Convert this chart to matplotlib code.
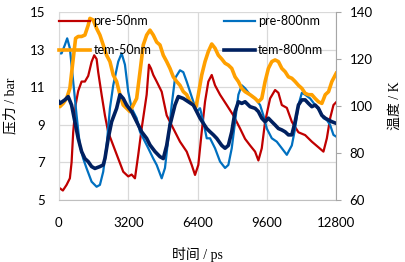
import matplotlib
matplotlib.use('Agg')
import matplotlib.pyplot as plt

# pressure (left axis, bar) and temperature (right axis, K) vs time (ps)
t_pre50 = [0, 46, 185, 356, 508, 587, 661, 772, 892, 1049, 1201, 1354, 1511, 1631, 1742, 1816,
           1973, 2126, 2278, 2509, 2740, 2971, 3202, 3359, 3512, 3664, 3821, 4052, 4159, 4251,
           4358, 4515, 4746, 4977, 5282, 5591, 5901, 6132, 6285, 6437, 6594, 6747, 6899, 7056,
           7208, 7440, 7749, 8054, 8364, 8595, 8826, 9057, 9210, 9366, 9519, 9750, 9981, 10134,
           10291, 10522, 10753, 11058, 11368, 11677, 11982, 12213, 12370, 12522, 12675, 12800]
p_pre50 = [5.6, 5.62, 5.5, 5.8, 6.15, 7.0, 8.6, 10.05, 10.8, 11.3, 11.3, 11.6, 12.35, 12.7, 12.5, 11.8,
           10.6, 9.5, 8.6, 7.9, 7.2, 6.5, 6.25, 6.35, 6.15, 7.4, 8.8, 10.6, 12.2, 12.0,
           11.65, 11.3, 10.76, 9.5, 8.8, 8.1, 7.57, 6.86, 6.33, 6.86, 8.63, 10.23, 11.3, 11.65,
           11.1, 10.6, 10.05, 9.5, 8.8, 8.25, 7.9, 7.57, 7.1, 7.75, 9.16, 10.4, 10.85, 10.7,
           10.05, 9.9, 9.16, 8.6, 8.45, 8.1, 7.8, 7.57, 8.28, 9.35, 10.05, 10.2]

t_pre800 = [0, 125, 277, 384, 508, 661, 818, 970, 1123, 1280, 1511, 1742, 1895, 2047, 2204, 2357,
            2509, 2740, 2897, 3050, 3202, 3359, 3590, 3743, 3896, 4127, 4358, 4515, 4746, 4898,
            5051, 5208, 5360, 5591, 5744, 5901, 6054, 6206, 6363, 6516, 6668, 6825, 6978, 7208,
            7440, 7671, 7823, 7980, 8133, 8286, 8443, 8595, 8826, 9057, 9288, 9440, 9597, 9829,
            10058, 10291, 10522, 10753, 10906, 11058, 11216, 11368, 11599, 11830, 12060, 12213,
            12370, 12522, 12675, 12800]
p_pre800 = [12.8, 12.8, 13.25, 13.6, 13.07, 11.3, 9.5, 7.9, 7.2, 6.68, 5.97, 5.7, 5.8, 6.5, 7.9, 9.88,
            11.1, 12.36, 12.8, 12.2, 10.76, 9.88, 9.35, 8.63, 8.28, 7.75, 7.2, 6.86, 6.15, 6.7,
            8.28, 10.05, 11.47, 11.9, 11.8, 11.3, 10.76, 10.23, 9.7, 9.88, 9.16, 8.28, 8.28, 7.75,
            7.04, 6.7, 6.86, 7.75, 9.16, 10.6, 11.1, 10.94, 10.6, 10.4, 10.05, 9.5, 8.8, 8.28,
            8.1, 7.75, 7.4, 7.9, 8.8, 10.05, 10.7, 10.6, 10.4, 10.05, 9.7, 9.35,
            9.25, 8.99, 8.46, 8.37]

t_tem50 = [0, 46, 199, 356, 508, 661, 772, 892, 1049, 1201, 1354, 1433, 1585, 1742, 1895, 2047,
           2204, 2357, 2509, 2666, 2819, 2971, 3128, 3281, 3433, 3590, 3743, 3896, 4052, 4205,
           4358, 4515, 4667, 4820, 4977, 5129, 5282, 5439, 5591, 5744, 5901, 6054, 6206, 6331,
           6437, 6594, 6747, 6899, 7056, 7208, 7361, 7518, 7671, 7823, 7980, 8133, 8286, 8443,
           8595, 8826, 9057, 9210, 9366, 9519, 9672, 9829, 9981, 10134, 10291, 10444, 10596,
           10753, 10906, 11058, 11216, 11368, 11520, 11677, 11830, 11982, 12139, 12296, 12449,
           12601, 12800]
k_tem50 = [100.4, 99.7, 101.1, 103.2, 107.5, 120.0, 128.8, 129.6, 129.6, 130.2, 134.4, 137.3, 136.6,
           133.0, 130.2, 126.0, 121.6, 118.9, 113.2, 110.4, 104.8, 100.4, 99.0, 97.6, 100.4, 103.2,
           114.4, 126.0, 130.2, 132.3, 130.2, 127.2, 126.0, 121.6, 118.9, 116.0, 112.4, 110.4,
           108.8, 106.1, 104.8, 101.8, 100.4, 99.7, 104.8, 113.2, 118.9, 123.2, 126.4, 124.6, 121.6,
           120.0, 118.2, 117.4, 116.0, 112.4, 110.4, 107.5, 106.1, 104.8, 103.2, 101.8, 103.2,
           110.4, 116.0, 118.9, 119.6, 118.9, 116.0, 114.6, 112.4, 111.8, 110.4, 108.8, 107.5,
           105.4, 104.8, 104.8, 103.2, 101.8, 101.1, 104.8, 106.1, 110.4, 113.9]

t_tem800 = [0, 46, 277, 430, 587, 739, 892, 1049, 1201, 1354, 1511, 1664, 1895, 2047, 2126, 2278,
            2435, 2666, 2819, 2971, 3128, 3359, 3590, 3821, 4052, 4205, 4436, 4667, 4820, 4977,
            5129, 5360, 5513, 5744, 5976, 6206, 6363, 6516, 6668, 6825, 6978, 7131, 7287, 7518,
            7671, 7823, 7980, 8133, 8286, 8443, 8595, 8748, 8826, 9057, 9210, 9366, 9519, 9672,
            9829, 9981, 10134, 10291, 10444, 10596, 10753, 10906, 11058, 11216, 11368, 11520,
            11677, 11830, 11982, 12139, 12296, 12449, 12601, 12800]
k_tem800 = [101.8, 101.1, 102.6, 104.0, 100.4, 93.3, 86.2, 80.6, 77.6, 76.3, 74.2, 73.4, 74.2, 74.9,
            77.6, 86.2, 93.3, 99.0, 104.8, 103.2, 100.4, 97.6, 93.3, 89.0, 86.2, 83.4, 80.6, 78.4,
            77.6, 83.2, 91.9, 100.4, 104.0, 103.2, 101.8, 100.4, 97.6, 94.8, 92.6, 90.4, 89.0,
            87.7, 86.2, 83.2, 82.0, 83.2, 89.0, 97.6, 101.8, 101.1, 101.8, 100.4, 99.7, 99.0, 97.6,
            94.8, 93.3, 94.8, 93.3, 91.9, 90.4, 89.8, 89.0, 87.7, 87.7, 93.3, 100.4, 102.6, 102.6,
            101.1, 99.7, 100.4, 99.0, 96.0, 94.8, 94.0, 93.3, 92.6]

grid_c = '#d9d9d9'
font_num = 'Lato'
font_lbl = ['Liberation Serif', 'Noto Sans CJK SC']

fig = plt.figure(figsize=(4.06, 2.62), dpi=100)
ax = fig.add_axes([0.145, 0.237, 0.683, 0.717])
ax2 = ax.twinx()

l1, = ax.plot(t_pre50, p_pre50, color='#C00000', lw=1.6, label='pre-50nm')
l3, = ax.plot(t_pre800, p_pre800, color='#0070C0', lw=1.6, label='pre-800nm')
l2, = ax2.plot(t_tem50, k_tem50, color='#FFA000', lw=2.6, label='tem-50nm')
l4, = ax2.plot(t_tem800, k_tem800, color='#002060', lw=2.6, label='tem-800nm')

ax.set_xlim(0, 12800)
ax.set_ylim(5, 15)
ax2.set_ylim(60, 140)
ax.set_xticks([0, 3200, 6400, 9600, 12800])
ax.set_yticks([5, 7, 9, 11, 13, 15])
ax2.set_yticks([60, 80, 100, 120, 140])
ax.grid(True, color=grid_c, lw=0.9)
ax.set_axisbelow(True)

for a in (ax, ax2):
    for s in a.spines.values():
        s.set_visible(False)
ax.spines['left'].set_visible(True)
ax.spines['left'].set_color(grid_c)
ax.spines['bottom'].set_visible(True)
ax.spines['bottom'].set_color('#bfbfbf')
ax2.spines['right'].set_visible(True)
ax2.spines['right'].set_color('#a6a6a6')

ax.tick_params(axis='both', length=0, labelsize=9.5)
ax.tick_params(axis='x', pad=12)
ax.tick_params(axis='y', pad=10)
ax2.tick_params(axis='y', length=3.5, color='#a6a6a6', labelsize=9.5, pad=6)
for lab in ax.get_xticklabels() + ax.get_yticklabels() + ax2.get_yticklabels():
    lab.set_fontfamily(font_num)

ax.set_xlabel('时间 / ps', family=font_lbl, fontsize=10, labelpad=13)
ax.set_ylabel('压力 / bar', family=font_lbl, fontsize=10, labelpad=9)
ax2.set_ylabel('温度 / K', family=font_lbl, fontsize=10, labelpad=12)

leg = ax2.legend(handles=[l1, l2, l3, l4], ncol=2, frameon=False,
                 loc='upper left', bbox_to_anchor=(59 / 406, 1 - 15 / 262),
                 bbox_transform=fig.transFigure, borderpad=0, borderaxespad=0,
                 handlelength=2.5, handletextpad=0.25, labelspacing=1.35,
                 columnspacing=5.8, prop={'family': font_num, 'size': 9})

fig.savefig('out.png', dpi=100)
